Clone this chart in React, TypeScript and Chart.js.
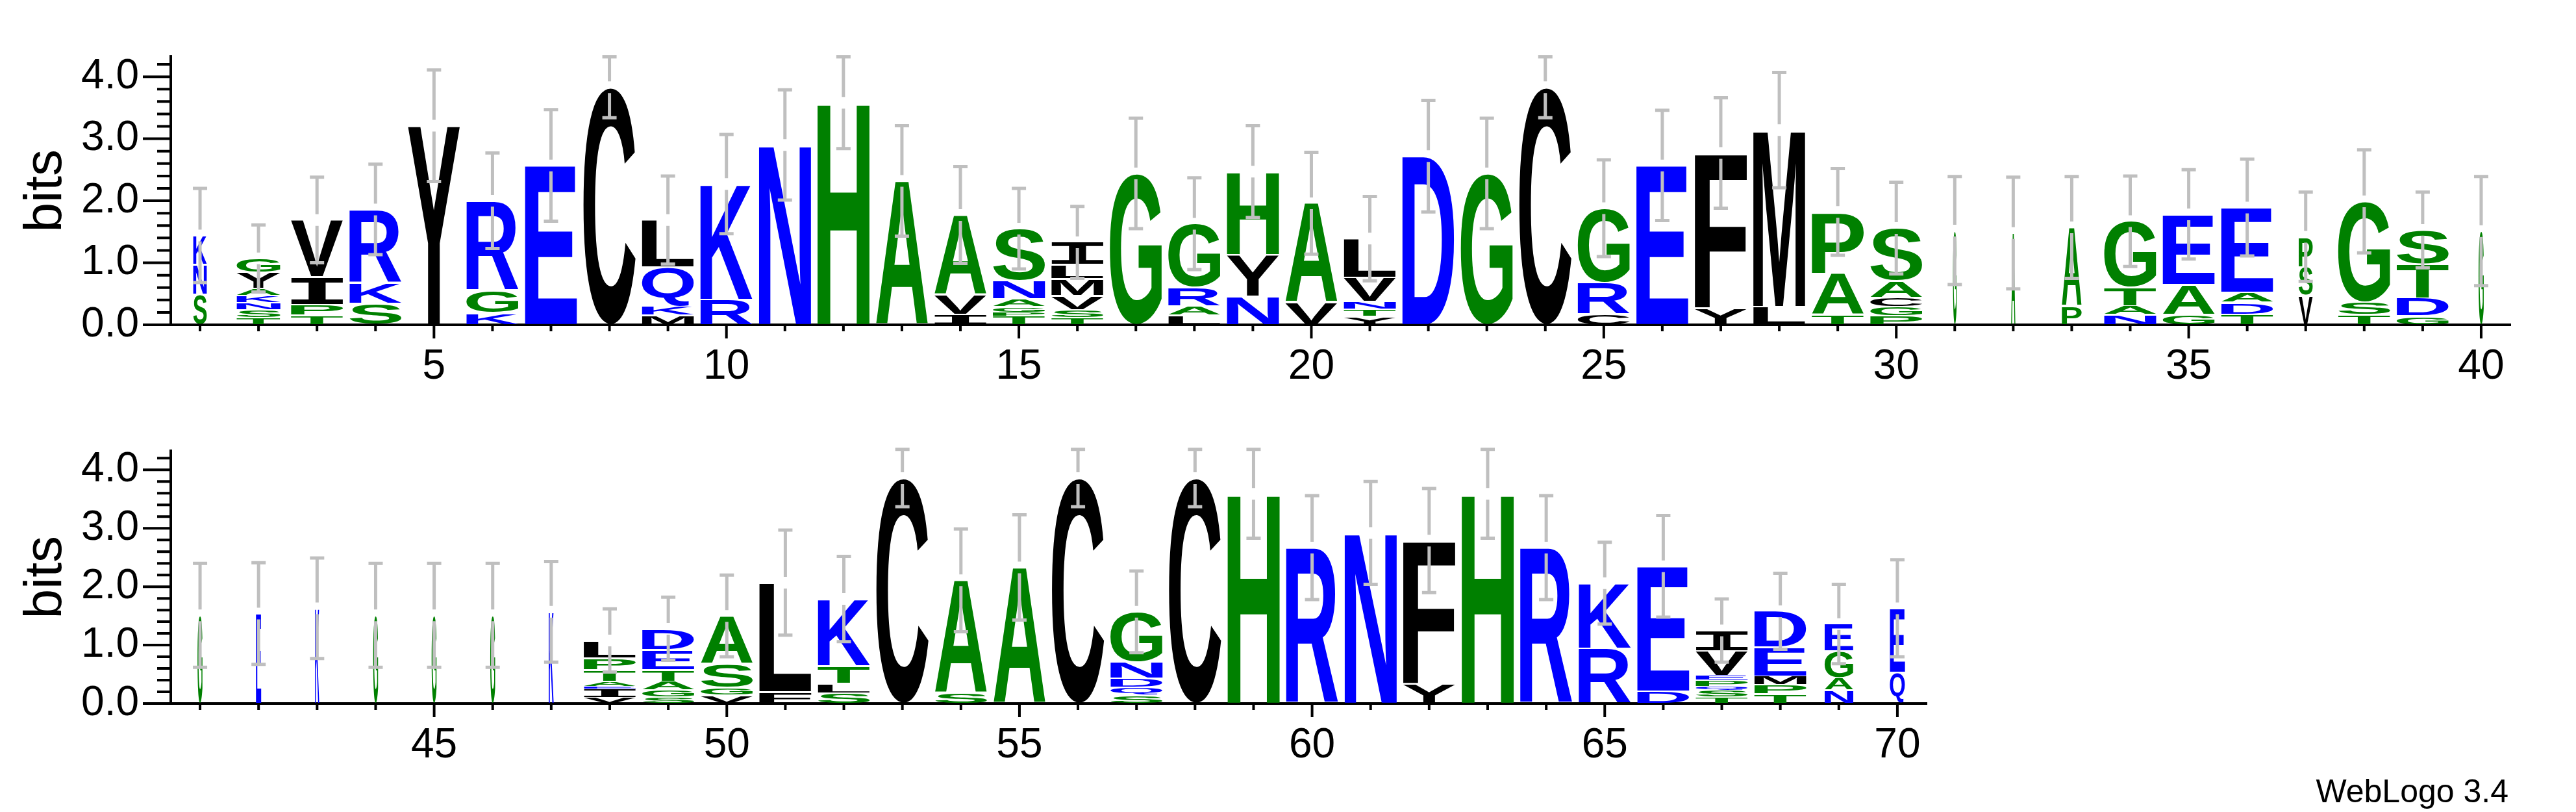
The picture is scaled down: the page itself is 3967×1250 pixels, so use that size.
import React, { useEffect, useRef } from "react";
import { Chart, registerables } from "chart.js";

Chart.register(...registerables);

// ---------- DATA ----------
const positionsTop: string[] = ["1","2","3","4","5","6","7","8","9","10","11","12","13","14","15","16","17","18","19","20","21","22","23","24","25","26","27","28","29","30","31","32","33","34","35","36","37","38","39","40"];
const positionsBottom: string[] = ["41","42","43","44","45","46","47","48","49","50","51","52","53","54","55","56","57","58","59","60","61","62","63","64","65","66","67","68","69","70"];

// letters of each stack, bottom to top
const lettersTop: string[] = ["SNK","TSNKAYG","TPIV","SKR","Y","KGR","E","C","MKQL","RK","N","H","A","IVA","TPGANS","TSVMLI","G","LARG","NYH","VA","YTNVL","D","G","C","CRG","E","YF","LM","TAP","PGCAS","G","A","PA","NATG","GAE","TDAE","VSP","TSG","GDTS","G"];
// heights (bits) of each letter, bottom to top
const heightsTop: number[][] = [
  [0.49,0.48,0.47],
  [0.11,0.13,0.12,0.11,0.11,0.26,0.23],
  [0.15,0.17,0.45,0.92],
  [0.34,0.34,1.18],
  [3.21],
  [0.19,0.36,1.45],
  [2.57],
  [3.83],
  [0.15,0.15,0.63,0.76],
  [0.41,1.86],
  [2.90],
  [3.58],
  [2.32],
  [0.17,0.32,1.28],
  [0.14,0.06,0.09,0.13,0.29,0.84],
  [0.11,0.13,0.23,0.27,0.23,0.36],
  [2.44],
  [0.15,0.15,0.30,1.03],
  [0.46,0.67,1.34],
  [0.36,1.60],
  [0.13,0.12,0.13,0.38,0.63],
  [2.72],
  [2.44],
  [3.83],
  [0.17,0.51,1.20],
  [2.57],
  [0.27,2.50],
  [0.29,2.85],
  [0.16,0.67,0.99],
  [0.14,0.15,0.15,0.27,0.85],
  [1.52],
  [1.48],
  [0.30,1.27],
  [0.16,0.14,0.30,1.07],
  [0.16,0.49,1.13],
  [0.17,0.19,0.16,1.37],
  [0.47,0.46,0.49],
  [0.16,0.20,1.63],
  [0.14,0.29,0.55,0.55],
  [1.51],
];
// fraction of sequences without a gap (stack width)
const occupancyTop: number[] = [0.26,0.84,1,1,1,1,1,1,1,1,1,1,1,1,1,1,1,1,1,1,1,1,1,1,1,1,1,1,1,1,0.07,0.08,0.38,1,1,1,0.27,1,1,0.1];
// error bar half-lengths (bits)
const errorTop: number[] = [0.76,0.54,0.69,0.73,0.90,0.77,0.90,0.49,0.71,0.80,0.89,0.74,0.89,0.78,0.65,0.58,0.89,0.74,0.74,0.82,0.68,0.90,0.89,0.49,0.78,0.89,0.89,0.93,0.70,0.74,0.87,0.90,0.82,0.73,0.72,0.78,0.72,0.83,0.61,0.88];

const lettersBottom: string[] = ["G","E","K","G","G","G","K","VIEATPL","SGATED","VGSA","FL","SLTK","C","SA","A","C","SQDNG","C","H","R","N","YF","H","R","RK","DE","TSQPEVI","TPMED","NAGE","QE"];
const heightsBottom: number[][] = [
  [1.51],
  [1.54],
  [1.63],
  [1.51],
  [1.51],
  [1.51],
  [1.57],
  [0.10,0.15,0.04,0.09,0.20,0.20,0.30],
  [0.11,0.12,0.15,0.20,0.34,0.36],
  [0.14,0.13,0.41,0.82],
  [0.20,1.87],
  [0.18,0.16,0.30,1.15],
  [3.86],
  [0.18,1.93],
  [2.33],
  [3.86],
  [0.14,0.14,0.15,0.28,0.86],
  [3.86],
  [3.59],
  [2.67],
  [2.92],
  [0.34,2.45],
  [3.59],
  [2.67],
  [0.94,1.12],
  [0.21,2.14],
  [0.11,0.12,0.06,0.11,0.08,0.42,0.35],
  [0.16,0.16,0.15,0.49,0.62],
  [0.23,0.21,0.46,0.46],
  [0.53,1.10],
];
const occupancyBottom: number[] = [0.095,0.1,0.08,0.095,0.095,0.095,0.095,1,1,1,1,1,1,1,1,1,1,1,1,1,1,1,1,1,1,1,1,1,0.55,0.29];
const errorBottom: number[] = [0.89,0.87,0.86,0.89,0.89,0.89,0.86,0.54,0.54,0.70,0.90,0.73,0.49,0.88,0.90,0.49,0.70,0.49,0.76,0.89,0.88,0.89,0.76,0.89,0.70,0.87,0.54,0.65,0.68,0.83];

const yTickValues: number[] = [0,0.2,0.4,0.6,0.8,1.0,1.2,1.4,1.6,1.8,2.0,2.2,2.4,2.6,2.8,3.0,3.2,3.4,3.6,3.8,4.0,4.2];
const yMax = 4.3219;

// ---------- STYLE ----------
const FONT = '"Liberation Sans", Arial, Helvetica, sans-serif';
const BLUE = "#0000ff";
const GREEN = "#008000";
const BLACK = "#000000";
const ERR_GRAY = "#bfbfbf";

function colorOf(ch: string): string {
  if ("RKDENQ".includes(ch)) return BLUE;
  if ("SGHTAP".includes(ch)) return GREEN;
  return BLACK;
}

function drawGlyph(ctx: CanvasRenderingContext2D, ch: string, color: string, left: number, top: number, w: number, h: number) {
  if (w <= 0 || h <= 0) return;
  ctx.save();
  ctx.font = ch === "I" ? 'bold 200px "DejaVu Sans Mono", monospace' : 'bold 200px ' + FONT;
  ctx.textAlign = "left";
  ctx.textBaseline = "alphabetic";
  const m = ctx.measureText(ch);
  const gw = m.actualBoundingBoxLeft + m.actualBoundingBoxRight;
  const gh = m.actualBoundingBoxAscent + m.actualBoundingBoxDescent;
  ctx.translate(left, top);
  ctx.scale(w / gw, h / gh);
  ctx.fillStyle = color;
  ctx.fillText(ch, m.actualBoundingBoxLeft, m.actualBoundingBoxAscent);
  ctx.restore();
}

function makeLogoPlugin(letters: string[], heights: number[][], occupancy: number[], errors: number[]) {
  return {
    id: "logo",
    afterDatasetsDraw(chart: any) {
      const ctx: CanvasRenderingContext2D = chart.ctx;
      const xs = chart.scales.x;
      const ys = chart.scales.y;
      // letters
      const nDs = chart.data.datasets.length;
      for (let k = 0; k < nDs; k++) {
        const meta = chart.getDatasetMeta(k);
        meta.data.forEach((el: any, i: number) => {
          const ch = letters[i][k];
          if (!ch) return;
          const p = el.getProps(["x", "y", "base", "width"], true);
          const top = Math.min(p.y, p.base);
          const h = Math.abs(p.base - p.y);
          if (h < 1) return;
          const w = p.width * occupancy[i];
          const inset = Math.min(1.2, h * 0.1);
          drawGlyph(ctx, ch, colorOf(ch), p.x - w / 2, top + inset, w, h - 2 * inset);
        });
      }
      // error bars
      ctx.save();
      ctx.strokeStyle = ERR_GRAY;
      ctx.lineWidth = 5;
      ctx.lineCap = "butt";
      heights.forEach((hs, i) => {
        const total = hs.reduce((a, b) => a + b, 0);
        const xc = xs.getPixelForValue(i);
        const yT = ys.getPixelForValue(total);
        const yHi = ys.getPixelForValue(total + errors[i]);
        const yLo = ys.getPixelForValue(Math.max(0, total - errors[i]));
        const gap = 9;
        ctx.beginPath();
        ctx.moveTo(xc, yHi);
        ctx.lineTo(xc, yT - gap);
        ctx.moveTo(xc, yT + gap);
        ctx.lineTo(xc, yLo);
        ctx.moveTo(xc - 11, yHi);
        ctx.lineTo(xc + 11, yHi);
        ctx.moveTo(xc - 11, yLo);
        ctx.lineTo(xc + 11, yLo);
        ctx.stroke();
      });
      ctx.restore();
    },
    afterDraw(chart: any) {
      const ctx: CanvasRenderingContext2D = chart.ctx;
      const xs = chart.scales.x;
      const ys = chart.scales.y;
      const area = chart.chartArea;
      ctx.save();
      ctx.strokeStyle = BLACK;
      ctx.lineWidth = 4;
      ctx.lineCap = "butt";
      ctx.beginPath();
      for (const v of yTickValues) {
        const yp = ys.getPixelForValue(v);
        const major = Math.abs(v - Math.round(v)) < 1e-6;
        ctx.moveTo(area.left - (major ? 43 : 21), yp);
        ctx.lineTo(area.left, yp);
      }
      const labs: string[] = chart.data.labels;
      labs.forEach((lab: string, i: number) => {
        const xp = xs.getPixelForValue(i);
        const major = Number(lab) % 5 === 0;
        ctx.moveTo(xp, area.bottom);
        ctx.lineTo(xp, area.bottom + (major ? 21 : 10));
      });
      ctx.stroke();
      ctx.restore();
    },
  };
}

function makeConfig(labels: string[], letters: string[], heights: number[][], occupancy: number[], errors: number[], xAxisHeight: number, padding: any) {
  const maxLevels = Math.max(...heights.map((h) => h.length));
  const datasets = [];
  for (let k = 0; k < maxLevels; k++) {
    datasets.push({
      label: "level" + k,
      data: heights.map((h) => (h[k] === undefined ? null : h[k])),
      backgroundColor: "rgba(0,0,0,0)",
      borderWidth: 0,
      barPercentage: 0.89,
      categoryPercentage: 1,
    });
  }
  return {
    type: "bar",
    data: { labels, datasets },
    options: {
      responsive: false,
      animation: false,
      devicePixelRatio: 1,
      layout: { padding },
      plugins: { legend: { display: false }, tooltip: { enabled: false } },
      scales: {
        x: {
          type: "category",
          stacked: true,
          offset: true,
          grid: { display: false, drawTicks: false },
          border: { display: true, color: BLACK, width: 4 },
          ticks: {
            autoSkip: false,
            maxRotation: 0,
            minRotation: 0,
            padding: 27,
            color: BLACK,
            font: { size: 64, family: FONT },
            callback: function (this: any, v: any) {
              const l = this.getLabelForValue(v);
              return Number(l) % 5 === 0 ? l : "";
            },
          },
          afterFit: (s: any) => {
            s.height = xAxisHeight;
          },
        },
        y: {
          type: "linear",
          stacked: true,
          min: 0,
          max: yMax,
          grid: { display: false, drawTicks: false },
          border: { display: true, color: BLACK, width: 4 },
          ticks: {
            autoSkip: false,
            padding: 49,
            color: BLACK,
            font: { size: 64, family: FONT },
            callback: (v: any) => (Math.abs(v - Math.round(v)) < 1e-6 ? Number(v).toFixed(1) : ""),
          },
          afterBuildTicks: (s: any) => {
            s.ticks = yTickValues.map((v) => ({ value: v }));
          },
          afterFit: (s: any) => {
            s.width = 263;
          },
          title: {
            display: true,
            text: "bits",
            color: BLACK,
            font: { size: 82, family: FONT },
            padding: { top: 22, bottom: 0 },
          },
        },
      },
    },
    plugins: [makeLogoPlugin(letters, heights, occupancy, errors)],
  };
}

export default function App() {
  const topRef = useRef<HTMLCanvasElement | null>(null);
  const botRef = useRef<HTMLCanvasElement | null>(null);

  useEffect(() => {
    const c1 = new Chart(
      topRef.current as HTMLCanvasElement,
      makeConfig(positionsTop, lettersTop, heightsTop, occupancyTop, errorTop, 107, { top: 50, right: 101, bottom: 0, left: 0 }) as any
    );
    const c2 = new Chart(
      botRef.current as HTMLCanvasElement,
      makeConfig(positionsBottom, lettersBottom, heightsBottom, occupancyBottom, errorBottom, 167, { top: 26, right: 1000, bottom: 0, left: 0 }) as any
    );
    return () => {
      c1.destroy();
      c2.destroy();
    };
  }, []);

  return (
    <div style={{ position: "absolute", left: 0, top: 0, width: 3967, height: 1250, background: "#ffffff", overflow: "hidden" }}>
      <canvas ref={topRef} width={3967} height={607} style={{ position: "absolute", left: 0, top: 0, width: 3967, height: 607 }} />
      <canvas ref={botRef} width={3967} height={643} style={{ position: "absolute", left: 0, top: 607, width: 3967, height: 643 }} />
      <div
        style={{
          position: "absolute",
          right: 104,
          top: 1193,
          fontFamily: FONT,
          fontSize: 50,
          lineHeight: "50px",
          color: "#000",
          whiteSpace: "nowrap",
        }}
      >
        WebLogo 3.4
      </div>
    </div>
  );
}
